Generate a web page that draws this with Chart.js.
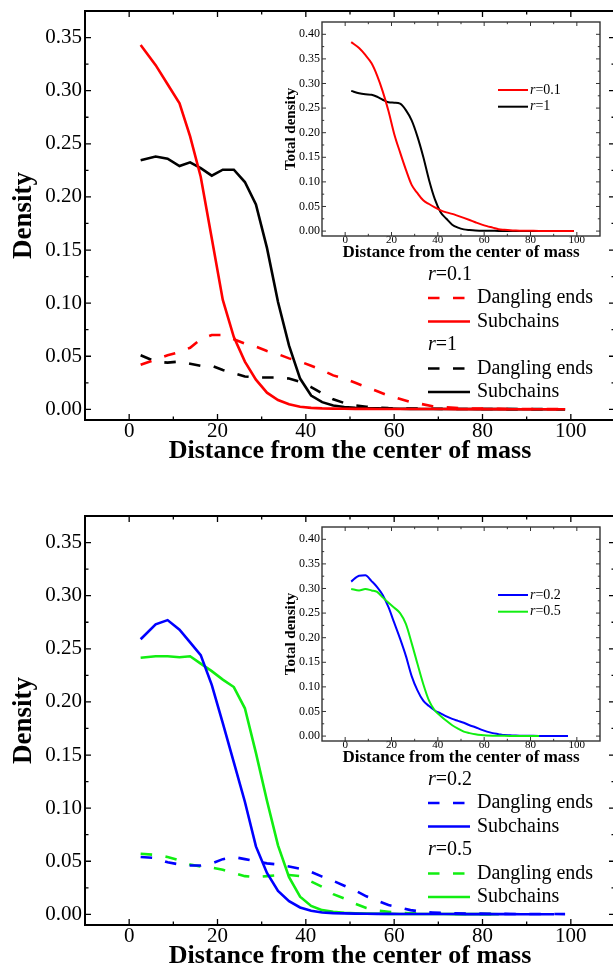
<!DOCTYPE html>
<html>
<head>
<meta charset="utf-8">
<title>Density profiles</title>
<script src="https://cdn.jsdelivr.net/npm/chart.js@4.4.1/dist/chart.umd.min.js"></script>
<style>
  html, body { margin: 0; padding: 0; background: #fff; }
  body { width: 613px; height: 967px; overflow: hidden; position: relative; }
  canvas { position: absolute; }
</style>
</head>
<body>
<canvas id="mainTop" width="640" height="480" style="left:0;top:0"></canvas>
<canvas id="insetTop" width="322" height="256" style="left:282px;top:14px"></canvas>
<canvas id="mainBottom" width="640" height="480" style="left:0;top:505px"></canvas>
<canvas id="insetBottom" width="322" height="256" style="left:282px;top:519px"></canvas>
<script>
// distance bins (x) shared by every curve
const distance = [2.6, 6.0, 8.7, 11.4, 13.8, 16.2, 18.7, 21.2, 23.7, 26.2, 28.7, 31.2, 33.7, 36.2, 38.7,
    41.2, 43.7, 46.2, 48.7, 51.2, 53.7, 56.2, 58.7, 61.2, 63.7, 66.2, 68.7, 71.2, 73.7, 76.2,
    78.7, 81.2, 83.7, 86.2, 88.7, 91.2, 93.7, 96.2, 98.7];

// top panel, r=0.1 and r=1
const subchainsR01 = [0.343, 0.324, 0.306, 0.288, 0.257, 0.219, 0.161, 0.103, 0.068, 0.045, 0.028, 0.0157, 0.0088, 0.0048, 0.0025,
    0.0014, 0.0009, 0.0007, 0.0006, 0.0005, 0.0005, 0.0004, 0.0004, 0.0004, 0.0003, 0.0003, 0.0003, 0.0003, 0.0002, 0.0002,
    0.0002, 0.0002, 0.0002, 0.0001, 0.0001, 0.0001, 0.0001, 0.0001, 0.0001];
const danglingR01 = [0.042, 0.047, 0.051, 0.054, 0.058, 0.066, 0.070, 0.070, 0.066, 0.062, 0.059, 0.055, 0.052, 0.048, 0.045,
    0.041, 0.037, 0.032, 0.029, 0.025, 0.021, 0.017, 0.013, 0.010, 0.007, 0.005, 0.003, 0.002, 0.0015, 0.001,
    0.0008, 0.0006, 0.0005, 0.0004, 0.0003, 0.0003, 0.0002, 0.0002, 0.0002];
const subchainsR1 = [0.2344, 0.238, 0.236, 0.229, 0.2325, 0.227, 0.220, 0.2256, 0.2256, 0.214, 0.193, 0.152, 0.101, 0.060, 0.029,
    0.013, 0.0068, 0.0037, 0.0022, 0.0015, 0.0011, 0.0009, 0.0007, 0.0006, 0.0005, 0.0004, 0.0004, 0.0003, 0.0003, 0.0003,
    0.0002, 0.0002, 0.0002, 0.0002, 0.0001, 0.0001, 0.0001, 0.0001, 0.0001];
const danglingR1 = [0.051, 0.045, 0.044, 0.045, 0.043, 0.041, 0.041, 0.037, 0.034, 0.031, 0.030, 0.030, 0.030, 0.029, 0.026,
    0.021, 0.015, 0.0095, 0.006, 0.0038, 0.0025, 0.0017, 0.0012, 0.001, 0.0008, 0.0007, 0.0006, 0.0005, 0.0004, 0.0004,
    0.0003, 0.0003, 0.0003, 0.0002, 0.0002, 0.0002, 0.0002, 0.0001, 0.0001];

// bottom panel, r=0.2 and r=0.5
const subchainsR02 = [0.259, 0.273, 0.277, 0.268, 0.256, 0.244, 0.216, 0.180, 0.143, 0.106, 0.064, 0.039, 0.022, 0.0125, 0.0065,
    0.0035, 0.0018, 0.0012, 0.0009, 0.0007, 0.0006, 0.0005, 0.0005, 0.0004, 0.0004, 0.0003, 0.0003, 0.0003, 0.0003, 0.0002,
    0.0002, 0.0002, 0.0002, 0.0002, 0.0001, 0.0001, 0.0001, 0.0001];
const danglingR02 = [0.054, 0.053, 0.049, 0.047, 0.046, 0.046, 0.048, 0.052, 0.054, 0.052, 0.050, 0.048, 0.047, 0.045, 0.043,
    0.040, 0.0355, 0.0315, 0.027, 0.0225, 0.017, 0.0128, 0.0088, 0.0065, 0.004, 0.0025, 0.0018, 0.0013, 0.001, 0.0008,
    0.0007, 0.0006, 0.0005, 0.0004, 0.0004, 0.0003, 0.0003, 0.0003, 0.0002];
const subchainsR05 = [0.2415, 0.243, 0.243, 0.242, 0.243, 0.236, 0.229, 0.221, 0.214, 0.194, 0.152, 0.107, 0.065, 0.035, 0.0166,
    0.008, 0.004, 0.0025, 0.0016, 0.0011, 0.0008, 0.0006, 0.0005, 0.0004, 0.0004, 0.0003, 0.0003, 0.0003, 0.0002, 0.0002,
    0.0002, 0.0002, 0.0001];
const danglingR05 = [0.057, 0.056, 0.054, 0.051, 0.047, 0.045, 0.044, 0.042, 0.039, 0.036, 0.035, 0.036, 0.037, 0.037, 0.036,
    0.031, 0.026, 0.019, 0.015, 0.010, 0.006, 0.0035, 0.0025, 0.0015, 0.001, 0.0008, 0.0006, 0.0005, 0.0004, 0.0003,
    0.0003, 0.0002, 0.0002];

// insets: total density
const totalR01 = [0.384, 0.372, 0.358, 0.341, 0.316, 0.284, 0.244, 0.197, 0.160, 0.125, 0.094, 0.077, 0.0625, 0.055, 0.048,
    0.042, 0.038, 0.035, 0.031, 0.0268, 0.0225, 0.018, 0.0137, 0.010, 0.007, 0.0038, 0.0025, 0.0015, 0.001, 0.0008,
    0.0006, 0.0005, 0.0004, 0.0003, 0.0003, 0.0002, 0.0002, 0.0002, 0.0001];
const totalR1 = [0.285, 0.280, 0.278, 0.277, 0.273, 0.267, 0.262, 0.261, 0.259, 0.246, 0.225, 0.192, 0.151, 0.104, 0.065,
    0.0385, 0.025, 0.013, 0.007, 0.0035, 0.002, 0.001, 0.0008, 0.0006, 0.0005, 0.0004, 0.0004, 0.0003, 0.0003, 0.0003,
    0.0002, 0.0002, 0.0002, 0.0002, 0.0001, 0.0001, 0.0001, 0.0001, 0.0001];
const totalR02 = [0.314, 0.326, 0.327, 0.315, 0.303, 0.287, 0.262, 0.230, 0.198, 0.163, 0.122, 0.093, 0.072, 0.061, 0.052,
    0.046, 0.040, 0.035, 0.031, 0.027, 0.022, 0.018, 0.013, 0.009, 0.006, 0.004, 0.002, 0.0015, 0.001, 0.0008,
    0.0006, 0.0005, 0.0004, 0.0003, 0.0003, 0.0002, 0.0002, 0.0002];
const totalR05 = [0.299, 0.296, 0.299, 0.296, 0.293, 0.282, 0.271, 0.261, 0.250, 0.228, 0.189, 0.147, 0.106, 0.072, 0.052,
    0.041, 0.031, 0.022, 0.015, 0.009, 0.006, 0.0035, 0.002, 0.0012, 0.0008, 0.0006, 0.0005, 0.0004, 0.0003, 0.0003,
    0.0002, 0.0002, 0.0001];

// axis ticks
const xTicks = [0, 20, 40, 60, 80, 100];
const xMinor = [10, 30, 50, 70, 90];
const yTicksMain = [0, 0.05, 0.10, 0.15, 0.20, 0.25, 0.30, 0.35];
const yMinorMain = [0.025, 0.075, 0.125, 0.175, 0.225, 0.275, 0.325];
const yTicksInset = [0, 0.05, 0.10, 0.15, 0.20, 0.25, 0.30, 0.35, 0.40];
const yMinorInset = [0.025, 0.075, 0.125, 0.175, 0.225, 0.275, 0.325, 0.375];

const SERIF = "'Liberation Serif', 'Times New Roman', serif";
const DASH = [11.5, 13.5];
const RED = '#ff0000', BLACK = '#000000', BLUE = '#0000ff', GREEN = '#11ee11';

Chart.defaults.font.family = SERIF;
Chart.defaults.color = '#000';

function pts(ys) {
    return ys.map((v, i) => ({x: distance[i], y: v}));
}

// box frame with inward ticks on all four sides
const frameTicks = {
    id: 'frameTicks',
    afterDatasetsDraw(chart, args, o) {
        const {ctx, chartArea: a} = chart;
        const xs = chart.scales.x, ys = chart.scales.y;
        ctx.save();
        ctx.strokeStyle = o.color;
        ctx.lineWidth = o.tickWidth;
        ctx.beginPath();
        const vx = (vals, len) => vals.forEach(v => {
            const p = xs.getPixelForValue(v);
            ctx.moveTo(p, a.bottom); ctx.lineTo(p, a.bottom - len);
            ctx.moveTo(p, a.top); ctx.lineTo(p, a.top + len);
        });
        const hy = (vals, len) => vals.forEach(v => {
            const p = ys.getPixelForValue(v);
            ctx.moveTo(a.left, p); ctx.lineTo(a.left + len, p);
            ctx.moveTo(a.right, p); ctx.lineTo(a.right - len, p);
        });
        vx(o.xMajor, o.major); vx(o.xMinor, o.minor);
        hy(o.yMajor, o.major); hy(o.yMinor, o.minor);
        ctx.stroke();
        ctx.lineWidth = o.frameWidth;
        ctx.strokeRect(a.left, a.top, a.right - a.left, a.bottom - a.top);
        ctx.restore();
    }
};

function drawRatio(ctx, x, y, value, size) {
    ctx.fillStyle = '#000';
    ctx.textAlign = 'left';
    ctx.font = `italic ${size}px ${SERIF}`;
    ctx.fillText('r', x, y);
    const w = ctx.measureText('r').width;
    ctx.font = `${size}px ${SERIF}`;
    ctx.fillText('=' + value, x + w, y);
}

// legend with "r=..." group headers
const groupLegend = {
    id: 'groupLegend',
    afterDraw(chart, args, o) {
        if (!o.rows) return;
        const ctx = chart.ctx;
        ctx.save();
        ctx.textBaseline = 'middle';
        o.rows.forEach((row, i) => {
            const y = o.y + i * o.step;
            if (row.color) {
                ctx.strokeStyle = row.color;
                ctx.lineWidth = o.lineWidth;
                ctx.setLineDash(row.dash || []);
                ctx.beginPath();
                ctx.moveTo(o.x, y);
                ctx.lineTo(o.x + o.lineLen, y);
                ctx.stroke();
                ctx.setLineDash([]);
                const tx = o.x + o.lineLen + o.gap;
                if (row.text) {
                    ctx.font = `${o.size}px ${SERIF}`;
                    ctx.fillStyle = '#000';
                    ctx.textAlign = 'left';
                    ctx.fillText(row.text, tx, y);
                } else {
                    drawRatio(ctx, tx, y, row.ratio, o.size);
                }
            } else {
                drawRatio(ctx, o.x, y, row.ratio, o.size);
            }
        });
        ctx.restore();
    }
};

function axes(cfg) {
    return {
        x: {
            type: 'linear', min: -10, max: 110,
            afterBuildTicks: s => { s.ticks = xTicks.map(v => ({value: v})); },
            afterFit: s => { s.height = cfg.xHeight; s.paddingLeft = 0; s.paddingRight = 0; },
            grid: {display: false, drawTicks: false},
            border: {display: false},
            ticks: {font: {size: cfg.xTickSize, lineHeight: 1}, padding: cfg.xTickPad, maxRotation: 0, autoSkip: false,
                callback: v => String(v)},
            title: {display: true, text: 'Distance from the center of mass',
                font: {size: cfg.xTitleSize, weight: 'bold'}, padding: {top: 0, bottom: cfg.xTitlePad}}
        },
        y: {
            type: 'linear', min: -0.01, max: cfg.yMax,
            afterBuildTicks: s => { s.ticks = cfg.yTicks.map(v => ({value: v})); },
            afterFit: s => { s.width = cfg.yWidth; s.paddingTop = 0; s.paddingBottom = 0; },
            grid: {display: false, drawTicks: false},
            border: {display: false},
            ticks: {font: {size: cfg.yTickSize}, padding: cfg.yTickPad, autoSkip: false,
                callback: v => v.toFixed(2)},
            title: {display: true, text: cfg.yTitle,
                font: {size: cfg.yTitleSize, weight: 'bold'}, padding: {top: cfg.yTitlePad, bottom: 0}}
        }
    };
}

function buildMain(id, groups) {
    const datasets = [];
    const rows = [];
    groups.forEach(g => {
        datasets.push({data: pts(g.sub), borderColor: g.color, borderWidth: 2.6, pointRadius: 0, tension: 0});
        datasets.push({data: pts(g.dangling), borderColor: g.color, borderWidth: 2.6, pointRadius: 0, tension: 0,
            borderDash: DASH});
        rows.push({ratio: g.ratio});
        rows.push({text: 'Dangling ends', color: g.color, dash: DASH});
        rows.push({text: 'Subchains', color: g.color});
    });
    return new Chart(document.getElementById(id), {
        type: 'line',
        data: {datasets},
        plugins: [frameTicks, groupLegend],
        options: {
            responsive: false, animation: false, events: [],
            layout: {padding: {top: 11, right: 25, left: 0, bottom: 0}},
            plugins: {
                legend: {display: false}, tooltip: {enabled: false},
                frameTicks: {color: '#000', tickWidth: 1.3, frameWidth: 2, major: 6, minor: 3.5,
                    xMajor: xTicks, xMinor: xMinor, yMajor: yTicksMain, yMinor: yMinorMain},
                groupLegend: {rows, x: 428, y: 274.5, step: 23.5, size: 20, lineLen: 42, gap: 7, lineWidth: 2.6}
            },
            scales: axes({xHeight: 60, xTickSize: 21, xTickPad: 1, xTitleSize: 26, xTitlePad: 13,
                yMax: 0.375, yTicks: yTicksMain, yWidth: 85, yTickSize: 21, yTickPad: 3,
                yTitle: 'Density', yTitleSize: 27, yTitlePad: 8})
        }
    });
}

function buildInset(id, series) {
    const datasets = series.map(s => ({data: pts(s.total), borderColor: s.color, borderWidth: 2, pointRadius: 0,
        cubicInterpolationMode: 'monotone'}));
    const rows = series.filter(s => s.legendRow !== undefined)
        .sort((a, b) => a.legendRow - b.legendRow)
        .map(s => ({ratio: s.ratio, color: s.color}));
    return new Chart(document.getElementById(id), {
        type: 'line',
        data: {datasets},
        plugins: [frameTicks, groupLegend],
        options: {
            responsive: false, animation: false, events: [],
            layout: {padding: {top: 8, right: 4, left: 0, bottom: 0}},
            plugins: {
                legend: {display: false}, tooltip: {enabled: false},
                frameTicks: {color: '#333', tickWidth: 1, frameWidth: 1.4, major: 4, minor: 2.2,
                    xMajor: xTicks, xMinor: xMinor, yMajor: yTicksInset, yMinor: yMinorInset},
                groupLegend: {rows, x: 216, y: 76, step: 16.7, size: 14, lineLen: 30, gap: 2, lineWidth: 2}
            },
            scales: axes({xHeight: 34, xTickSize: 11, xTickPad: -1, xTitleSize: 17, xTitlePad: 7,
                yMax: 0.425, yTicks: yTicksInset, yWidth: 40, yTickSize: 12, yTickPad: 2,
                yTitle: 'Total density', yTitleSize: 15, yTitlePad: 0})
        }
    });
}

buildMain('mainTop', [
    {ratio: '0.1', color: RED, sub: subchainsR01, dangling: danglingR01},
    {ratio: '1', color: BLACK, sub: subchainsR1, dangling: danglingR1}
]);
buildInset('insetTop', [
    {ratio: '0.1', color: RED, total: totalR01, legendRow: 0},
    {ratio: '1', color: BLACK, total: totalR1, legendRow: 1}
]);
buildMain('mainBottom', [
    {ratio: '0.2', color: BLUE, sub: subchainsR02, dangling: danglingR02},
    {ratio: '0.5', color: GREEN, sub: subchainsR05, dangling: danglingR05}
]);
buildInset('insetBottom', [
    {ratio: '0.5', color: GREEN, total: totalR05, legendRow: 1},
    {ratio: '0.2', color: BLUE, total: totalR02, legendRow: 0}
]);
</script>
</body>
</html>
